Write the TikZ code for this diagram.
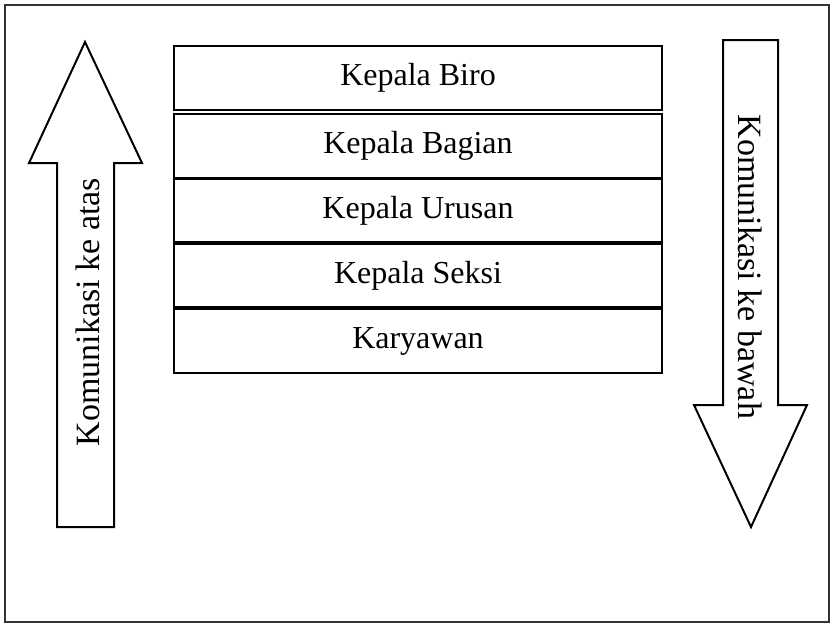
\documentclass[tikz,border=0pt]{standalone}
\usepackage{fontspec}
\setmainfont{Liberation Serif}
\tikzset{
  jabatan/.style={draw, line width=1pt, minimum width=244pt, minimum height=32pt, inner sep=0pt},
  panah/.style={draw, line width=1pt, line join=miter},
  arahteks/.style={font=\fontsize{17}{20}\selectfont},
}
\begin{document}
\begin{tikzpicture}[x=0.5pt,y=-0.5pt]
\fontsize{16}{19}\selectfont
\useasboundingbox (0,0) rectangle (831,623);
\draw[black!80, line width=0.7pt] (5,5) rectangle (829,622);
%
\node[jabatan](biro) at (418,78) {Kepala Biro};
%
\node[jabatan](bagian) at (418,146) {Kepala Bagian};
%
\node[jabatan, minimum height=31.5pt](urusan) at (418,210.5) {Kepala Urusan};
%
\node[jabatan, minimum height=31.5pt](seksi) at (418,275.5) {Kepala Seksi};
%
\node[jabatan](karyawan) at (418,341) {Karyawan};
%
% upward arrow on the left
\draw[panah] (85,42) -- (142,163) -- (114,163) -- (114,527) -- (57,527) -- (57,163) -- (29,163) -- cycle;
\node[arahteks, rotate=90](keatas) at (88,312) {Komunikasi ke atas};
%
% downward arrow on the right
\draw[panah] (751,527) -- (807,405) -- (778,405) -- (778,40) -- (723,40) -- (723,405) -- (694,405) -- cycle;
\node[arahteks, rotate=-90](kebawah) at (750,267) {Komunikasi ke bawah};
\end{tikzpicture}
\end{document}
